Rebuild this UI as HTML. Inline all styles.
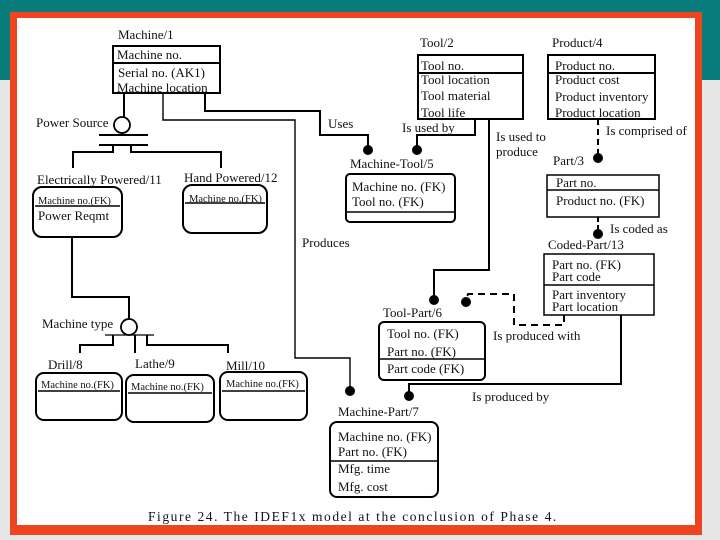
<!DOCTYPE html>
<html><head><style>
body{margin:0;width:720px;height:540px;overflow:hidden;background:#e6e6e6}
svg{position:absolute;left:0;top:0}
text{font-family:"Liberation Serif",serif;font-size:13px;fill:#111}
</style></head><body>
<svg width="720" height="540" viewBox="0 0 720 540">
<rect x="0" y="0" width="720" height="80" fill="#087b7b"/>
<rect x="10" y="12" width="692" height="523" fill="#ee4420"/>
<rect x="17" y="18" width="678" height="507" fill="#fff"/>
<g stroke="#000" stroke-width="2" fill="none">
<rect x="113" y="46" width="107" height="47"/><line x1="113" y1="63" x2="220" y2="63"/>
<rect x="418" y="55" width="105" height="64"/><line x1="418" y1="73" x2="523" y2="73"/>
<rect x="548" y="55" width="107" height="64"/><line x1="548" y1="73" x2="655" y2="73"/>
<rect x="547" y="175" width="112" height="42" stroke-width="1.5"/><line x1="547" y1="190" x2="659" y2="190" stroke-width="1.5"/>
<rect x="544" y="254" width="110" height="61" stroke-width="1.5"/><line x1="544" y1="285" x2="654" y2="285" stroke-width="1.5"/>
<rect x="346" y="174" width="109" height="48" rx="4"/><line x1="346" y1="212" x2="455" y2="212" stroke-width="1.5"/>
<rect x="379" y="322" width="106" height="58" rx="5"/><line x1="379" y1="359" x2="485" y2="359" stroke-width="1.5"/>
<rect x="330" y="422" width="108" height="75" rx="7"/><line x1="330" y1="461" x2="438" y2="461" stroke-width="1.5"/>
<rect x="33" y="187" width="89" height="50" rx="9"/><line x1="35" y1="206" x2="120" y2="206" stroke-width="1.5"/>
<rect x="183" y="185" width="84" height="48" rx="9"/><line x1="185" y1="203" x2="265" y2="203" stroke-width="1.5"/>
<rect x="36" y="373" width="86" height="47" rx="8"/><line x1="38" y1="391" x2="120" y2="391" stroke-width="1.5"/>
<rect x="126" y="375" width="88" height="47" rx="8"/><line x1="128" y1="393" x2="212" y2="393" stroke-width="1.5"/>
<rect x="220" y="372" width="87" height="48" rx="8"/><line x1="222" y1="391" x2="305" y2="391" stroke-width="1.5"/>
<polyline points="124,93 124,117"/>
<circle cx="122" cy="125" r="8" stroke-width="1.8"/>
<line x1="99" y1="135" x2="148" y2="135"/><line x1="99" y1="145" x2="148" y2="145"/>
<line x1="122" y1="133" x2="122" y2="135"/>
<polyline points="113,145 113,152 73,152 73,168"/>
<polyline points="131,145 131,152 221,152 221,168"/>
<polyline points="163,93 163,120 295,120 295,358 350,358 350,388" stroke-width="1.4"/>
<polyline points="205,93 205,111 320,111 320,135 368,135 368,148"/>
<polyline points="475,119 475,135 417,135 417,148"/>
<polyline points="489,119 489,270 434,270 434,298"/>
<polyline points="598,119 598,156" stroke-dasharray="6,4"/>
<polyline points="598,217 598,231" stroke-dasharray="5,3"/>
<polyline points="564,315 564,325 514,325 514,294 468,294 466,300" stroke-dasharray="7,5"/>
<polyline points="621,315 621,384 409,384 409,394"/>
<polyline points="72,237 72,297 129,297 129,319"/>
<circle cx="129" cy="327" r="8" stroke-width="1.8"/>
<line x1="105" y1="335" x2="154" y2="335" stroke-width="1.3"/>
<polyline points="113,335 113,345 80,345 80,353"/>
<line x1="135" y1="335" x2="135" y2="353"/>
<polyline points="147,335 147,345 228,345 228,353"/>
</g>
<g fill="#000">
<circle cx="368" cy="150" r="5"/><circle cx="417" cy="150" r="5"/>
<circle cx="598" cy="158" r="5"/><circle cx="598" cy="234" r="5"/>
<circle cx="434" cy="300" r="5"/><circle cx="466" cy="302" r="5"/>
<circle cx="409" cy="396" r="5"/><circle cx="350" cy="391" r="5"/>
</g>
<text x="118" y="39">Machine/1</text>
<text x="117" y="59">Machine no.</text>
<text x="118" y="77">Serial no.  (AK1)</text>
<text x="117" y="92">Machine location</text>
<text x="36" y="127">Power Source</text>
<text x="328" y="128">Uses</text>
<text x="37" y="184">Electrically Powered/11</text>
<text x="184" y="182">Hand Powered/12</text>
<text x="38" y="204" style="font-size:10.5px">Machine no.(FK)</text>
<text x="38" y="220">Power Reqmt</text>
<text x="189" y="202" style="font-size:10.5px">Machine no.(FK)</text>
<text x="420" y="47">Tool/2</text>
<text x="421" y="70">Tool no.</text>
<text x="421" y="84">Tool location</text>
<text x="421" y="100">Tool material</text>
<text x="421" y="117">Tool life</text>
<text x="552" y="47">Product/4</text>
<text x="555" y="70">Product no.</text>
<text x="555" y="84">Product cost</text>
<text x="555" y="101">Product inventory</text>
<text x="555" y="117">Product location</text>
<text x="402" y="132">Is used by</text>
<text x="496" y="141">Is used to</text>
<text x="496" y="156">produce</text>
<text x="606" y="135">Is comprised of</text>
<text x="350" y="168">Machine-Tool/5</text>
<text x="352" y="191">Machine no.  (FK)</text>
<text x="352" y="206">Tool no.  (FK)</text>
<text x="553" y="165">Part/3</text>
<text x="556" y="187">Part no.</text>
<text x="556" y="205">Product no.  (FK)</text>
<text x="610" y="233">Is coded as</text>
<text x="548" y="249">Coded-Part/13</text>
<text x="552" y="269">Part no.  (FK)</text>
<text x="552" y="281">Part code</text>
<text x="552" y="299">Part inventory</text>
<text x="552" y="311">Part location</text>
<text x="302" y="247">Produces</text>
<text x="42" y="328">Machine type</text>
<text x="383" y="317">Tool-Part/6</text>
<text x="387" y="338">Tool no. (FK)</text>
<text x="387" y="356">Part no.  (FK)</text>
<text x="387" y="373">Part code (FK)</text>
<text x="493" y="340">Is produced with</text>
<text x="472" y="401">Is produced by</text>
<text x="48" y="369">Drill/8</text>
<text x="135" y="368">Lathe/9</text>
<text x="226" y="370">Mill/10</text>
<text x="41" y="388" style="font-size:10.5px">Machine no.(FK)</text>
<text x="131" y="390" style="font-size:10.5px">Machine no.(FK)</text>
<text x="226" y="387" style="font-size:10.5px">Machine no.(FK)</text>
<text x="338" y="416">Machine-Part/7</text>
<text x="338" y="441">Machine no. (FK)</text>
<text x="338" y="456">Part no. (FK)</text>
<text x="338" y="473">Mfg. time</text>
<text x="338" y="491">Mfg. cost</text>
<text x="148" y="521" style="font-size:13.5px;letter-spacing:1.55px">Figure 24.  The IDEF1x model at the conclusion of Phase 4.</text>
</svg>
</body></html>
